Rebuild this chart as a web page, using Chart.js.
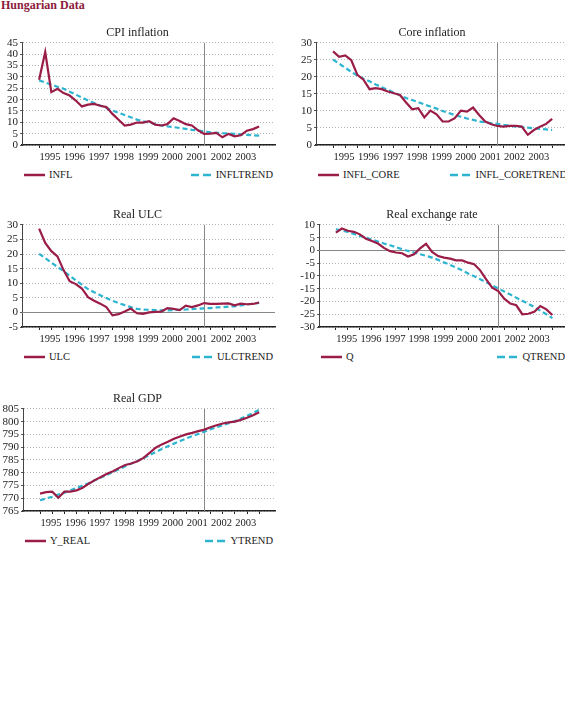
<!DOCTYPE html>
<html>
<head>
<meta charset="utf-8">
<script src="https://cdn.jsdelivr.net/npm/chart.js@4.4.1/dist/chart.umd.min.js"></script>
<style>
  html, body { margin: 0; padding: 0; background: #fff; }
  body { width: 565px; height: 716px; position: relative; overflow: hidden;
         font-family: 'Liberation Serif', 'DejaVu Serif', serif; }
  .page-title { position: absolute; left: 1px; top: -2px; font-size: 12px; font-weight: bold;
                color: #8b1a3c; line-height: 14px; }
  canvas { position: absolute; }
  .leg { position: absolute; display: flex; justify-content: space-between; align-items: center;
         font-size: 10.5px; color: #222; line-height: 12px; white-space: nowrap; }
  .leg span.item { display: flex; align-items: center; }
  .leg svg { margin-right: 4px; }
</style>
</head>
<body>
<div class="page-title">Hungarian Data</div>

<canvas id="cpi" width="276" height="139"></canvas>
<canvas id="core" width="272" height="139"></canvas>
<canvas id="ulc" width="276" height="139"></canvas>
<canvas id="reer" width="272" height="139"></canvas>
<canvas id="gdp" width="276" height="139"></canvas>

<script>
// quarterly observations, 1995Q1 - 2004Q1
const quarters = [
  '1995Q1','1995Q2','1995Q3','1995Q4','1996Q1','1996Q2','1996Q3','1996Q4',
  '1997Q1','1997Q2','1997Q3','1997Q4','1998Q1','1998Q2','1998Q3','1998Q4',
  '1999Q1','1999Q2','1999Q3','1999Q4','2000Q1','2000Q2','2000Q3','2000Q4',
  '2001Q1','2001Q2','2001Q3','2001Q4','2002Q1','2002Q2','2002Q3','2002Q4',
  '2003Q1','2003Q2','2003Q3','2003Q4','2004Q1'
];
const years = ['1995', '1996', '1997', '1998', '1999', '2000', '2001', '2002', '2003'];
const breakAt = 26.9;   // vertical marker (between 2001Q3 and 2001Q4)

const infl = [28.8, 41.0, 23.3, 24.8, 22.9, 21.8, 19.6, 17.0, 17.8, 18.1, 17.3, 16.7,
  13.7, 11.1, 8.6, 9.0, 9.9, 9.9, 10.5, 9.0, 8.6, 9.2, 11.8, 10.6,
  9.2, 8.6, 6.5, 4.9, 5.0, 5.3, 3.4, 4.9, 3.8, 4.3, 6.3, 7.0, 8.2];
const inflTrend = [28.5, 27.6, 26.6, 25.7, 24.8, 23.5, 22.2, 20.9, 19.6, 18.5, 17.4, 16.3,
  15.2, 14.2, 13.2, 12.2, 11.2, 10.5, 9.9, 9.2, 8.6, 8.2, 7.9, 7.5,
  7.1, 6.7, 6.4, 6.0, 5.6, 5.4, 5.2, 5.1, 4.9, 4.7, 4.5, 4.3, 4.1];

const inflCore = [27.5, 25.9, 26.3, 24.9, 20.6, 19.2, 16.4, 16.7, 16.4, 15.7, 15.2, 14.7,
  12.5, 10.5, 10.8, 8.1, 10.1, 9.0, 6.9, 6.9, 7.9, 10.1, 9.8, 11.0,
  8.8, 6.9, 6.1, 5.6, 5.4, 5.6, 5.6, 5.4, 3.0, 4.4, 5.4, 6.2, 7.7];
const inflCoreTrend = [25.1, 23.9, 22.7, 21.5, 20.4, 19.5, 18.7, 17.8, 17.0, 16.2, 15.4, 14.6,
  13.8, 13.2, 12.6, 11.9, 11.3, 10.7, 10.0, 9.4, 8.8, 8.3, 7.8, 7.4,
  6.9, 6.7, 6.4, 6.2, 5.9, 5.7, 5.4, 5.3, 5.1, 4.9, 4.7, 4.6, 4.4];

const ulc = [28.7, 23.8, 21.0, 19.2, 14.5, 10.7, 9.7, 8.2, 5.2, 4.0, 3.0, 1.8,
  -1.0, -0.6, 0.3, 1.3, -0.3, -0.5, 0.0, 0.2, 0.3, 1.5, 1.2, 0.8,
  2.3, 1.8, 2.4, 3.2, 2.9, 2.9, 3.0, 3.1, 2.4, 3.0, 2.8, 2.9, 3.4];
const ulcTrend = [20.1, 18.6, 17.1, 15.6, 14.2, 12.6, 11.0, 9.5, 8.0, 6.9, 5.9, 4.9,
  4.0, 3.2, 2.5, 1.8, 1.2, 1.0, 0.9, 0.8, 0.7, 0.7, 0.8, 0.9,
  1.0, 1.1, 1.3, 1.4, 1.5, 1.7, 1.8, 2.0, 2.1, 2.4, 2.7, 3.0, 3.3];

const q = [7.0, 8.6, 7.7, 7.3, 6.3, 4.6, 3.7, 2.7, 1.0, -0.3, -0.8, -1.1,
  -2.4, -1.5, 0.8, 2.6, -0.6, -2.2, -2.8, -3.2, -3.9, -3.9, -4.8, -5.4,
  -7.8, -11.3, -14.6, -15.9, -18.9, -20.8, -21.5, -25.0, -24.8, -24.0, -21.8, -23.1, -25.3];
const qTrend = [8.3, 7.8, 7.2, 6.5, 5.7, 5.0, 4.2, 3.5, 2.7, 2.0, 1.3, 0.5,
  -0.2, -0.8, -1.5, -2.1, -2.8, -3.7, -4.7, -5.7, -6.7, -7.8, -9.0, -10.1,
  -11.3, -12.5, -13.7, -14.9, -16.1, -17.3, -18.5, -19.7, -20.9, -22.2, -23.6, -25.0, -26.5];

const yReal = [771.8, 772.4, 772.6, 770.2, 772.6, 772.6, 773.1, 774.1, 775.7, 777.1, 778.3, 779.6,
  780.6, 781.9, 783.0, 783.6, 784.5, 785.8, 787.8, 789.8, 791.1, 792.1, 793.3, 794.2,
  795.0, 795.6, 796.3, 796.9, 797.8, 798.6, 799.3, 799.7, 800.0, 800.7, 801.5, 802.5, 803.7];
const yTrend = [769.2, 769.9, 770.6, 771.4, 772.2, 773.1, 774.0, 775.0, 775.9, 777.0, 778.1, 779.2,
  780.3, 781.4, 782.5, 783.6, 784.6, 785.7, 786.9, 788.1, 789.3, 790.4, 791.4, 792.4,
  793.4, 794.3, 795.2, 796.1, 797.0, 797.8, 798.6, 799.4, 800.2, 801.2, 802.3, 803.4, 804.6];

const MAIN = '#9a1d48';
const TREND = '#2db4d0';
const FONT = "'Liberation Serif', 'DejaVu Serif', serif";

// vertical break line and optional zero line
const refLines = {
  id: 'refLines',
  beforeDatasetsDraw(chart, args, opts) {
    const { ctx, chartArea: a, scales: { x, y } } = chart;
    ctx.save();
    ctx.lineWidth = 1;
    ctx.strokeStyle = '#888';
    if (opts.zero) {
      const py = Math.round(y.getPixelForValue(0)) + 0.5;
      ctx.beginPath(); ctx.moveTo(a.left, py); ctx.lineTo(a.right, py); ctx.stroke();
    }
    const px = Math.round(x.getPixelForValue(opts.breakAt)) + 0.5;
    ctx.beginPath(); ctx.moveTo(px, a.top); ctx.lineTo(px, a.bottom); ctx.stroke();
    ctx.restore();
  }
};

function toPoints(arr) {
  return arr.map((v, i) => ({ x: i, y: v }));
}

function makePanel(p) {
  const canvas = document.getElementById(p.id);
  canvas.style.left = p.left + 'px';
  canvas.style.top = p.top + 'px';

  const chart = new Chart(canvas, {
    type: 'line',
    data: {
      datasets: [
        { label: p.names[0], data: toPoints(p.main), borderColor: MAIN, borderWidth: 2.2,
          pointRadius: 0, tension: 0, order: 1 },
        { label: p.names[1], data: toPoints(p.trend), borderColor: TREND, borderWidth: 2.2,
          borderDash: [5, 3], pointRadius: 0, tension: 0, order: 2 }
      ]
    },
    options: {
      responsive: false,
      animation: false,
      layout: { padding: { left: 0, right: p.padRight, top: 0, bottom: 0 } },
      plugins: {
        legend: { display: false },
        tooltip: { enabled: false },
        title: { display: true, text: p.title, color: '#222',
                 font: { family: FONT, size: 12, weight: 'normal' },
                 padding: { top: 0, bottom: 2.5 } },
        refLines: { breakAt: breakAt, zero: p.zero }
      },
      scales: {
        x: {
          type: 'linear', min: -2.8, max: 38.6,
          afterBuildTicks: (s) => {
            const t = [];
            for (let v = 0; v < quarters.length; v += 2) t.push({ value: v });
            s.ticks = t;
          },
          afterFit: (s) => { s.height = 20; },
          grid: { drawOnChartArea: false, drawTicks: true, tickLength: 3, tickColor: '#222',
                  tickBorderDash: [] },
          border: { color: '#222', width: 1.5 },
          ticks: {
            autoSkip: false, maxRotation: 0, padding: 3, labelOffset: 11, color: '#222',
            font: { family: FONT, size: 10.5 },
            callback: (v) => {
              const lab = quarters[v];
              if (!lab || !lab.endsWith('Q1')) return '';
              const yr = lab.slice(0, 4);
              return years.includes(yr) ? yr : '';
            }
          }
        },
        y: {
          min: p.yMin, max: p.yMax,
          afterFit: (s) => { s.width = p.yWidth; },
          grid: { color: '#b5b5b5', lineWidth: 1, drawTicks: true, tickLength: 2,
                  tickColor: '#555', tickBorderDash: [] },
          border: { color: '#444', width: 1, dash: [1, 2] },
          ticks: { stepSize: 5, autoSkip: false, padding: 2, color: '#222',
                   font: { family: FONT, size: 11 } }
        }
      }
    },
    plugins: [refLines]
  });

  // legend: first series on the left, trend on the right
  const a = chart.chartArea;
  const leg = document.createElement('div');
  leg.className = 'leg';
  leg.style.left = (p.left + a.left + 2) + 'px';
  leg.style.width = (p.legRight - (p.left + a.left + 2)) + 'px';
  leg.style.top = (p.top + a.bottom + 24) + 'px';
  chart.data.datasets.forEach((ds) => {
    const item = document.createElement('span');
    item.className = 'item';
    const dash = ds.borderDash ? 'stroke-dasharray="8,4"' : '';
    item.innerHTML = '<svg width="21" height="4"><line x1="0" y1="2" x2="21" y2="2" stroke="' +
      ds.borderColor + '" stroke-width="2.5" ' + dash + '/></svg>' + ds.label;
    leg.appendChild(item);
  });
  document.body.appendChild(leg);
  return chart;
}

makePanel({ id: 'cpi', left: 0, top: 26, padRight: 1, yWidth: 22, legRight: 273,
  title: 'CPI inflation', names: ['INFL', 'INFLTREND'], main: infl, trend: inflTrend,
  yMin: 0, yMax: 45, zero: false });
makePanel({ id: 'core', left: 296, top: 26, padRight: 0, yWidth: 20, legRight: 567,
  title: 'Core inflation', names: ['INFL_CORE', 'INFL_CORETREND'], main: inflCore, trend: inflCoreTrend,
  yMin: 0, yMax: 30, zero: false });
makePanel({ id: 'ulc', left: 0, top: 208, padRight: 1, yWidth: 22, legRight: 273,
  title: 'Real ULC', names: ['ULC', 'ULCTREND'], main: ulc, trend: ulcTrend,
  yMin: -5, yMax: 30, zero: true });
makePanel({ id: 'reer', left: 296, top: 208, padRight: 0, yWidth: 23, legRight: 565,
  title: 'Real exchange rate', names: ['Q', 'QTREND'], main: q, trend: qTrend,
  yMin: -30, yMax: 10, zero: true });
makePanel({ id: 'gdp', left: 0, top: 392, padRight: 1, yWidth: 23, legRight: 273,
  title: 'Real GDP', names: ['Y_REAL', 'YTREND'], main: yReal, trend: yTrend,
  yMin: 765, yMax: 805, zero: false });
</script>
</body>
</html>
